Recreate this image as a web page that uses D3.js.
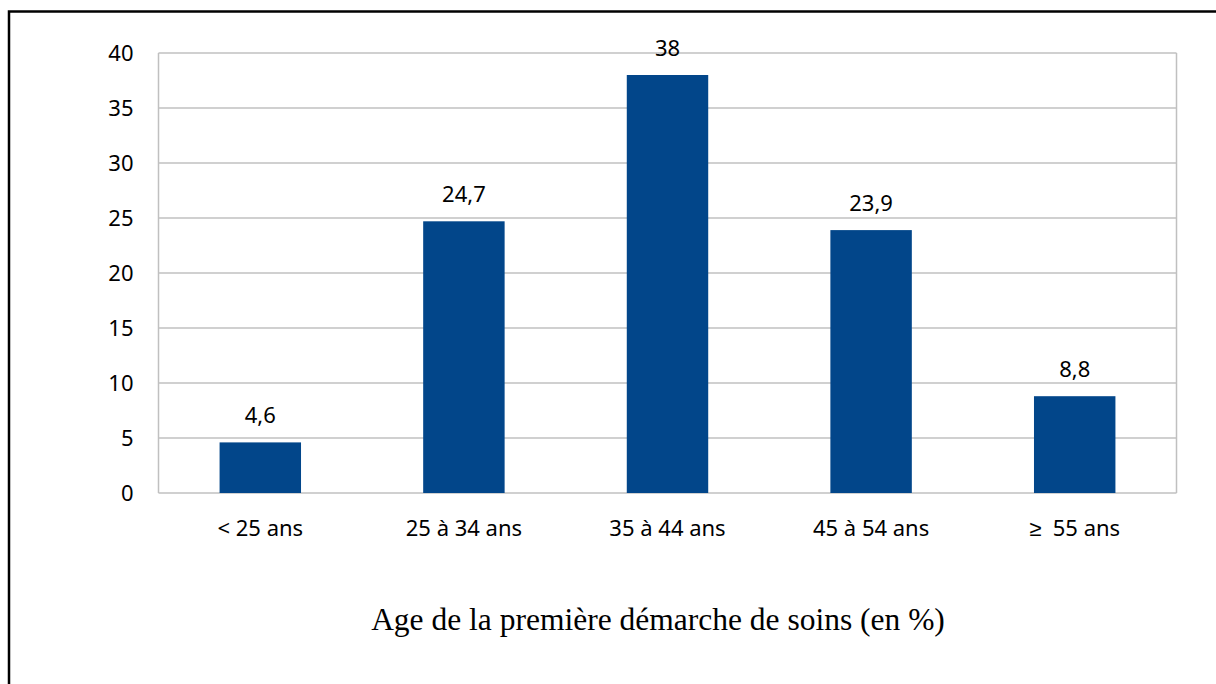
<!DOCTYPE html>
<html><head><meta charset="utf-8">
<script src="https://cdn.jsdelivr.net/npm/d3@7"></script>
<style>html,body{margin:0;padding:0;background:#fff;overflow:hidden} text{white-space:pre}</style>
</head><body>
<svg id="c" width="1216" height="684"></svg>
<script>
const categories = ["< 25 ans", "25 à 34 ans", "35 à 44 ans", "45 à 54 ans", "≥  55 ans"];
const values = [4.6, 24.7, 38, 23.9, 8.8];
const valueLabels = ["4,6", "24,7", "38", "23,9", "8,8"];
const yTicks = [0, 5, 10, 15, 20, 25, 30, 35, 40];
const title = "Age de la première démarche de soins (en %)";

const svg = d3.select("#c");
svg.append("path").attr("d", "M9,700 V11.5 H1230").attr("fill", "none").attr("stroke", "#000").attr("stroke-width", 2.5);

const L = 158.5, R = 1176.5, T = 53, B = 493;
const x = d3.scaleBand().domain(categories).range([L, R]).paddingInner(0.6).paddingOuter(0.3);
const y = d3.scaleLinear().domain([0, 40]).range([B, T]);

const font = "'Noto Sans', sans-serif";
const fs = 22;
svg.append("g").selectAll("line").data(yTicks).join("line")
  .attr("x1", L).attr("x2", R).attr("y1", d => y(d)).attr("y2", d => y(d))
  .attr("stroke", "#c0c0c0").attr("stroke-width", 1.5);
svg.append("line").attr("x1", L).attr("x2", L).attr("y1", T).attr("y2", B).attr("stroke", "#c0c0c0").attr("stroke-width", 1.5);
svg.append("line").attr("x1", R).attr("x2", R).attr("y1", T).attr("y2", B).attr("stroke", "#c0c0c0").attr("stroke-width", 1.5);

const yAxis = d3.axisLeft(y).tickValues(yTicks).tickSize(0).tickPadding(25);
const ga = svg.append("g").attr("transform", `translate(${L},0)`).call(yAxis);
ga.select(".domain").remove();
ga.selectAll("text").attr("font-family", font).attr("font-size", fs).attr("fill", "#000");

const xAxis = d3.axisBottom(x).tickSize(0);
const gx = svg.append("g").attr("transform", `translate(0,${B})`).call(xAxis);
gx.select(".domain").remove();
gx.selectAll("text").attr("font-family", font).attr("font-size", fs).attr("fill", "#000")
  .attr("dy", null).attr("y", 43);

svg.append("g").selectAll("rect").data(values).join("rect")
  .attr("x", (d, i) => x(categories[i])).attr("width", x.bandwidth())
  .attr("y", d => y(d)).attr("height", d => y(0) - y(d)).attr("fill", "#02468a");

svg.append("g").selectAll("text").data(values).join("text")
  .attr("x", (d, i) => x(categories[i]) + x.bandwidth() / 2).attr("y", d => y(d) - 19)
  .attr("text-anchor", "middle").attr("font-family", font).attr("font-size", fs).attr("fill", "#000")
  .text((d, i) => valueLabels[i]);

svg.append("text").attr("x", 658).attr("y", 630).attr("text-anchor", "middle")
  .attr("font-family", "'Liberation Serif', 'Times New Roman', serif").attr("font-size", 31.5).attr("fill", "#000")
  .text(title);
</script>
</body></html>
